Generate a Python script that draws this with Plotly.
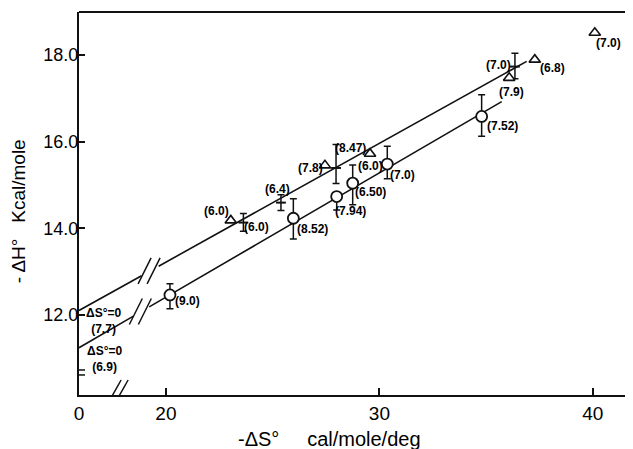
import plotly.graph_objects as go

# ---------------- data ----------------
# broken x axis: the 0..20 stretch is squeezed so that "0" sits here
X_ZERO_POS = 15.93

x_tick_vals = [0, 20, 30, 40]
x_tick_text = ["0", "20", "30", "40"]
y_tick_vals = [12, 14, 16, 18]
y_tick_text = ["12.0", "14.0", "16.0", "18.0"]

# open circles (lower line) with error bars
circ_x = [20.19, 25.97, 28.0, 28.75, 30.37, 34.79]
circ_y = [12.46, 14.23, 14.73, 15.04, 15.48, 16.58]
circ_err_plus = [0.26, 0.45, 0.0, 0.42, 0.41, 0.50]
circ_err_minus = [0.32, 0.48, 0.31, 0.50, 0.34, 0.46]
circ_labels = ["(9.0)", "(8.52)", "(7.94)", "(6.50)", "(7.0)", "(7.52)"]

# error-bar points on the upper line
bar_x = [23.63, 25.39, 27.97, 36.35]
bar_y = [14.13, 14.59, 15.39, 17.73]
bar_err_plus = [0.21, 0.18, 0.54, 0.31]
bar_err_minus = [0.20, 0.18, 0.36, 0.28]
bar_labels = ["(6.0)", "(6.4)", "(8.47)", "(7.0)"]

# open triangles
tri_x = [23.04, 27.45, 29.56, 36.08, 37.28, 40.09]
tri_y = [14.18, 15.45, 15.72, 17.47, 17.89, 18.51]
tri_labels = ["(6.0)", "(7.8)", "(6.0)", "(7.9)", "(6.8)", "(7.0)"]

# fitted lines (start at ΔS° = 0)
upper_line_x = [0, 36.9]
upper_line_y = [12.1, 17.85]
lower_line_x = [0, 35.73]
lower_line_y = [11.24, 16.92]
intercept_labels = ["ΔS°=0<br>(7.7)", "ΔS°=0<br>(6.9)"]

# ---------------- helpers ----------------
def brk(v):
    """Broken-axis transform: 0..20 squeezed into X_ZERO_POS..20."""
    if v >= 20:
        return v
    return X_ZERO_POS + v * (20 - X_ZERO_POS) / 20


def line_y_at(xd, xs, ys):
    x0, x1 = brk(xs[0]), brk(xs[1])
    return ys[0] + (ys[1] - ys[0]) * (xd - x0) / (x1 - x0)


LBL_FONT = dict(family="Liberation Sans", size=12, color="black")
BLACK = "#111111"

fig = go.Figure()

# fitted lines with a gap at the axis break
for xs, ys, gap in [(upper_line_x, upper_line_y, (18.86, 19.66)),
                    (lower_line_x, lower_line_y, (18.48, 19.22))]:
    xd0, xd1 = brk(xs[0]), brk(xs[1])
    seg_x = [xd0, gap[0], None, gap[1], xd1]
    seg_y = [ys[0], line_y_at(gap[0], xs, ys), None,
             line_y_at(gap[1], xs, ys), ys[1]]
    fig.add_trace(go.Scatter(x=seg_x, y=seg_y, mode="lines",
                             line=dict(color=BLACK, width=1.6),
                             hoverinfo="skip", showlegend=False))
    # break marks "//" on the line
    gc = (gap[0] + gap[1]) / 2
    gy = line_y_at(gc, xs, ys)
    for dx in (-6, 3):
        fig.add_shape(type="line", xref="x", yref="y",
                      xsizemode="pixel", ysizemode="pixel",
                      xanchor=gc, yanchor=gy,
                      x0=dx - 6, y0=-13, x1=dx + 7, y1=13,
                      line=dict(color=BLACK, width=1.5))

# error-bar points on upper line
fig.add_trace(go.Scatter(
    x=[brk(v) for v in bar_x], y=bar_y, mode="markers",
    marker=dict(symbol="line-ew", size=7, line=dict(color=BLACK, width=2)),
    error_y=dict(type="data", symmetric=False, array=bar_err_plus,
                 arrayminus=bar_err_minus, color=BLACK, thickness=1.5, width=3.5),
    showlegend=False))

# circles
fig.add_trace(go.Scatter(
    x=[brk(v) for v in circ_x], y=circ_y, mode="markers",
    marker=dict(symbol="circle", size=11, color="white",
                line=dict(color=BLACK, width=1.8)),
    error_y=dict(type="data", symmetric=False, array=circ_err_plus,
                 arrayminus=circ_err_minus, color=BLACK, thickness=1.5, width=3.5),
    showlegend=False))

# triangles
fig.add_trace(go.Scatter(
    x=[brk(v) for v in tri_x], y=tri_y, mode="markers",
    marker=dict(symbol="triangle-up", size=10, color="white",
                line=dict(color=BLACK, width=1.6)),
    showlegend=False))

# point labels (offsets in px: dx right, dy down)
circ_off = [(18, 6), (19, 11), (14, 14), (18, 9), (15, 11), (21, 10)]
bar_off = [(13, 4), (-3, -14), (14, -20), (-16, -2)]
tri_off = [(-14, -9), (-14, 3), (1, 12), (2, 14), (18, 8), (14, 10)]
for xs, ys, labs, offs in [(circ_x, circ_y, circ_labels, circ_off),
                           (bar_x, bar_y, bar_labels, bar_off),
                           (tri_x, tri_y, tri_labels, tri_off)]:
    for xv, yv, t, (dx, dy) in zip(xs, ys, labs, offs):
        fig.add_annotation(x=brk(xv), y=yv, text="<b>" + t + "</b>",
                           showarrow=False, xshift=dx, yshift=-dy,
                           font=LBL_FONT)

# intercept labels
for xs, ys, t, (dx, dy) in zip([upper_line_x, lower_line_x],
                               [upper_line_y, lower_line_y],
                               intercept_labels, [(24, 10), (25, 11)]):
    fig.add_annotation(x=brk(xs[0]), y=ys[0], text="<b>" + t + "</b>",
                       showarrow=False, xshift=dx, yshift=-dy,
                       font=LBL_FONT, align="center")

# x-axis break "//"
for dx in (-7, 0):
    fig.add_shape(type="line", xref="x", yref="y",
                  xsizemode="pixel", ysizemode="pixel",
                  xanchor=brk(9), yanchor=10.15,
                  x0=dx - 8, y0=-17, x1=dx + 10, y1=15,
                  line=dict(color=BLACK, width=1.5))
# y-axis break "="
for dy in (-2.5, 2.5):
    fig.add_shape(type="line", xref="x", yref="y",
                  xsizemode="pixel", ysizemode="pixel",
                  xanchor=X_ZERO_POS, yanchor=10.67,
                  x0=-5, y0=dy, x1=6, y1=dy,
                  line=dict(color=BLACK, width=1.5))

# top frame line
fig.add_shape(type="line", xref="paper", yref="paper",
              x0=0, x1=1, y0=1, y1=1, line=dict(color=BLACK, width=2))

# axis titles
fig.add_annotation(xref="paper", yref="paper", x=0.453, y=0, yanchor="middle",
                   yshift=-44, showarrow=False,
                   text="-ΔS°     cal/mole/deg",
                   font=dict(family="Liberation Sans", size=20, color="black"))
fig.add_annotation(xref="paper", yref="paper", x=0, y=0.48, xanchor="center",
                   xshift=-61, showarrow=False, textangle=-90,
                   text="- ΔH°   Kcal/mole",
                   font=dict(family="Liberation Sans", size=19, color="black"))

# the page places the figure 8 px in from the top-left corner
fig.update_layout(
    width=625, height=441,
    margin=dict(l=71, r=0, t=4, b=54),
    paper_bgcolor="white", plot_bgcolor="white",
    showlegend=False,
    xaxis=dict(range=[X_ZERO_POS, 41.88], showgrid=False, zeroline=False,
               showline=True, linecolor=BLACK, linewidth=2,
               ticks="inside", ticklen=7, tickwidth=1.5, tickcolor=BLACK,
               tickvals=[brk(v) for v in x_tick_vals], ticktext=x_tick_text,
               tickfont=dict(family="Liberation Sans", size=19, color="black")),
    yaxis=dict(range=[10.15, 18.99], showgrid=False, zeroline=False,
               showline=True, linecolor=BLACK, linewidth=2,
               ticks="inside", ticklen=6, tickwidth=1.5, tickcolor=BLACK,
               ticklabelstandoff=-5,
               tickvals=y_tick_vals, ticktext=y_tick_text,
               tickfont=dict(family="Liberation Sans", size=18, color="black")),
)

fig.write_html("out.html")
